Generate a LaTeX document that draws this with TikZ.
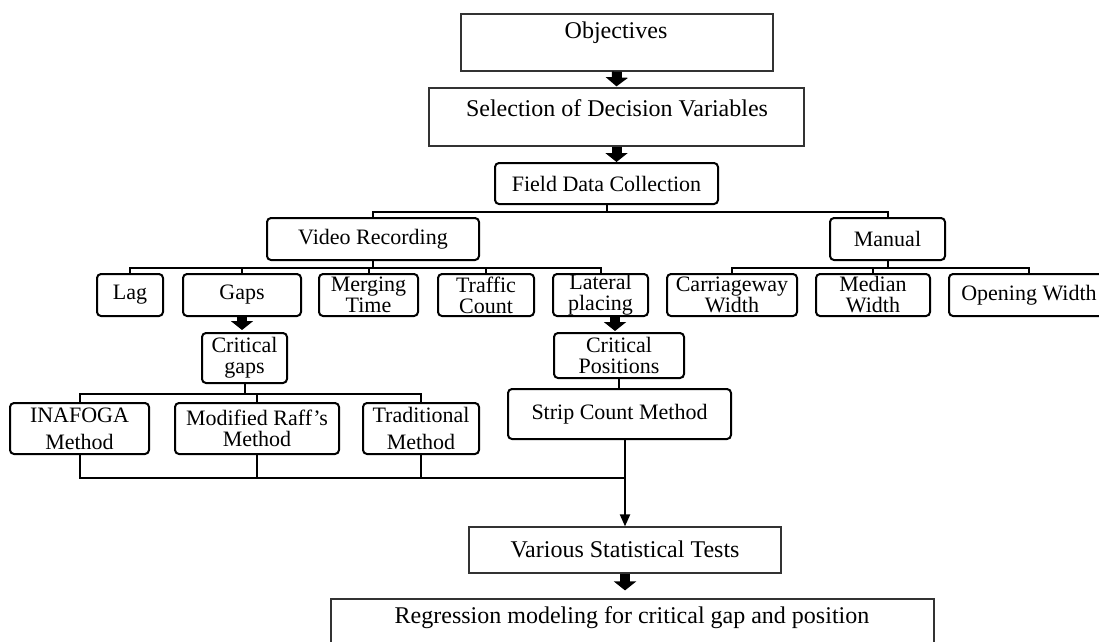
\documentclass[tikz,border=0pt]{standalone}
\usepackage{fontspec}
\setmainfont{Liberation Serif}
\usetikzlibrary{arrows.meta,calc}
\begin{document}
\begin{tikzpicture}[x=1pt,y=-1pt,
  thinbox/.style={draw=black!80, line width=1.2pt, inner sep=0pt},
  thickbox/.style={draw=black, line width=2pt, rounded corners=4pt, inner sep=0pt},
  txt/.style={inner sep=0pt, align=center, font=\fontsize{22}{21}\selectfont},
  bigtxt/.style={inner sep=0pt, align=center, font=\fontsize{24}{24}\selectfont},
  conn/.style={line width=2pt},
  blk/.style={line width=10pt, -{Triangle[width=22pt,length=9pt]}},
  sz/.style n args={2}{minimum width=#1pt, minimum height=#2pt}
]
\useasboundingbox (0,0) rectangle (1099,641);
\fill[white] (0,0) rectangle (1099,641);
\clip (0,0) rectangle (1099,641);

% thin boxes
\node[thinbox, sz={312}{57}] (obj) at (617,42.5) {};
\node[bigtxt] (objt) at (616,33) {Objectives};
\node[thinbox, sz={375}{58}] (sel) at (616.5,117) {};
\node[bigtxt] (selt) at (617,108) {Selection of Decision Variables};
\node[thinbox, sz={312}{46}] (var) at (625,550) {};
\node[bigtxt] (vart) at (625,549) {Various Statistical Tests};
\node[thinbox, sz={603}{62}] (reg) at (632.5,630) {};
\node[bigtxt] (regt) at (632,618) {Regression modeling for critical gap and position};

% thick boxes
\node[thickbox, sz={223}{41}] (fdc) at (606.5,183.5) {};
\node[txt] (fdct) at (fdc) {Field Data Collection};
\node[thickbox, sz={212}{42}] (video) at (373,239) {};
\node[txt] (videot) at (video) {Video Recording};
\node[thickbox, sz={115}{42}] (manual) at (887.5,239) {};
\node[txt] (manualt) at (manual) {Manual};

\node[thickbox, sz={66}{42}] (lag) at (130,295) {};
\node[txt] (lagt) at (lag) {Lag};
\node[thickbox, sz={118}{42}] (gaps) at (242,295) {};
\node[txt] (gapst) at (gaps) {Gaps};
\node[thickbox, sz={99}{42}] (merge) at (368.5,295) {};
\node[txt] (merget) at (merge) {Merging\\Time};
\node[thickbox, sz={96}{42}] (traffic) at (486,295) {};
\node[txt] (traffict) at (traffic) {Traffic\\Count};
\node[thickbox, sz={95}{42}] (lateral) at (600.5,295) {};
\node[txt] (lateralt) at (lateral) {Lateral\\placing};
\node[thickbox, sz={130}{42}] (carr) at (732,295) {};
\node[txt] (carrt) at (carr) {Carriageway\\Width};
\node[thickbox, sz={114}{42}] (median) at (873,295) {};
\node[txt] (mediant) at (median) {Median\\Width};
\node[thickbox, sz={160}{42}] (opening) at (1029,295) {};
\node[txt] (openingt) at (opening) {Opening Width};

\node[thickbox, sz={85}{50}] (cg) at (244.5,358) {};
\node[txt] (cgt) at (cg) {Critical\\gaps};
\node[thickbox, sz={130}{45}] (cp) at (619,355.5) {};
\node[txt] (cpt) at (cp) {Critical\\Positions};

\node[thickbox, sz={139}{51}] (inafoga) at (79.5,428.5) {};
\node[txt] (inafogat) at (inafoga) {INAFOGA\\[6pt]Method};
\node[thickbox, sz={164}{51}] (raff) at (257,428.5) {};
\node[txt] (rafft) at (raff) {Modified Raff's\\Method};
\node[thickbox, sz={116}{51}] (trad) at (421,428.5) {};
\node[txt] (tradt) at (trad) {Traditional\\[6pt]Method};
\node[thickbox, sz={223}{50}] (strip) at (619.5,414) {};
\node[txt] (stript) at (strip) {Strip Count Method};

% block arrows
\draw[blk] (obj.south) -- ([yshift=1pt]sel.north);
\draw[blk] (sel.south) -- (sel.south |- fdc.north);
\draw[blk] (gaps.south) -- ([yshift=2pt]gaps.south |- cg.north);
\draw[blk] ([xshift=14.5pt]lateral.south) -- ([xshift=14.5pt,yshift=1pt]lateral.south |- cp.north);
\draw[blk] (var.south) -- ([yshift=8pt]var.south |- reg.north);

% tree connectors
\draw[conn] (fdc.south) -- ++(0,7) -| (video.north);
\draw[conn] (fdc.south) -- ++(0,7) -| (manual.north);
\foreach \c in {lag,gaps,merge,traffic,lateral}
  \draw[conn] (video.south) -- ++(0,7) -| (\c.north);
\foreach \c in {carr,median,opening}
  \draw[conn] (manual.south) -- ++(0,7) -| (\c.north);
\foreach \c in {inafoga,raff,trad}
  \draw[conn] (cg.south) -- ++(0,10) -| (\c.north);
\draw[conn] (cp.south) -- (cp.south |- strip.north);

% merge to statistical tests
\coordinate (jn) at (625,478);
\draw[conn] (inafoga.south) |- (jn);
\draw[conn] (raff.south) -- (raff.south |- jn);
\draw[conn] (trad.south) -- (trad.south |- jn);
\draw[conn, -{Triangle[width=10pt,length=12pt]}] (strip.south -| var.north) -- (var.north);
\end{tikzpicture}
\end{document}
